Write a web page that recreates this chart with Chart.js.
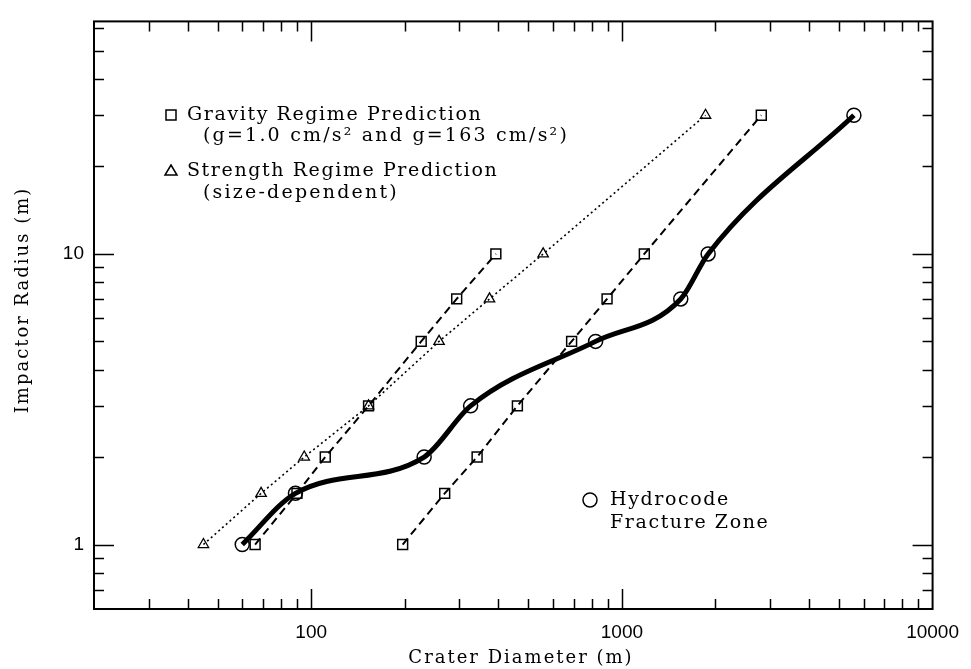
<!DOCTYPE html>
<html>
<head>
<meta charset="utf-8">
<script src="https://cdn.jsdelivr.net/npm/chart.js@4.4.0/dist/chart.umd.min.js"></script>
<style>
  html, body { margin: 0; padding: 0; background: #fff; }
  #wrap { width: 971px; height: 669px; }
</style>
</head>
<body>
<div id="wrap"><canvas id="myChart" width="971" height="669"></canvas></div>
<script>
// impactor radius (m) of each run
const radii = [1, 1.5, 2, 3, 5, 7, 10, 30];

// crater diameter (m) for each radius
const gravityHighG = [66, 90, 111, 153, 226, 294, 393];          // g = 163 cm/s2
const gravityLowG = [197, 269, 342, 461, 689, 896, 1181, 2810];  // g = 1.0 cm/s2
const strength = [45, 69, 95, 153, 258, 375, 558, 1859];
const hydrocode = [60, 89, 231, 326, 823, 1547, 1895, 5582];

// axis ticks
const xTicks = [30, 40, 50, 60, 70, 80, 90, 100, 200, 300, 400, 500, 600, 700, 800, 900,
                1000, 2000, 3000, 4000, 5000, 6000, 7000, 8000, 9000];
const xLabels = [100, 1000, 10000];
const yTicks = [0.7, 0.8, 0.9, 1, 2, 3, 4, 5, 6, 7, 8, 9, 10, 20, 30, 40, 50, 60];
const yLabels = [1, 10];

const pts = (xs) => xs.map((x, i) => ({ x: x, y: radii[i] }));

const serif = '"DejaVu Serif", serif';

// border and inward tick marks on all four sides
const frame = {
    id: 'frame',
    afterDatasetsDraw(chart) {
        const { ctx, chartArea: a, scales: { x, y } } = chart;
        ctx.save();
        ctx.strokeStyle = '#000';
        ctx.lineWidth = 2;
        ctx.strokeRect(a.left, a.top, a.right - a.left, a.bottom - a.top);
        ctx.lineWidth = 1.5;
        ctx.beginPath();
        xTicks.forEach(v => {
            const px = Math.round(x.getPixelForValue(v)) + 0.5;
            const len = xLabels.includes(v) ? 20 : 10;
            ctx.moveTo(px, a.bottom); ctx.lineTo(px, a.bottom - len);
            ctx.moveTo(px, a.top); ctx.lineTo(px, a.top + len);
        });
        yTicks.forEach(v => {
            const py = Math.round(y.getPixelForValue(v)) + 0.5;
            const len = yLabels.includes(v) ? 20 : 10;
            ctx.moveTo(a.left, py); ctx.lineTo(a.left + len, py);
            ctx.moveTo(a.right, py); ctx.lineTo(a.right - len, py);
        });
        ctx.stroke();
        ctx.restore();
    }
};

// axis titles and the in-plot key
const notes = {
    id: 'notes',
    afterDraw(chart) {
        const ctx = chart.ctx;
        ctx.save();
        ctx.fillStyle = '#000';
        ctx.strokeStyle = '#000';
        ctx.textBaseline = 'alphabetic';

        ctx.font = '18px ' + serif;
        ctx.letterSpacing = '2px';
        ctx.textAlign = 'center';
        ctx.fillText('Crater Diameter (m)', 521, 663);
        ctx.save();
        ctx.translate(28, 300);
        ctx.rotate(-Math.PI / 2);
        ctx.fillText('Impactor Radius (m)', 0, 0);
        ctx.restore();

        ctx.textAlign = 'left';
        ctx.font = '19px ' + serif;
        ctx.letterSpacing = '1.6px';
        ctx.fillText('Gravity Regime Prediction', 187, 120);
        ctx.fillText('Strength Regime Prediction', 187, 176);
        ctx.fillText('Hydrocode', 610, 505);
        ctx.fillText('Fracture Zone', 610, 528);
        ctx.letterSpacing = '2.2px';
        ctx.fillText('(g=1.0 cm/s\u00b2 and g=163 cm/s\u00b2)', 203, 141);
        ctx.fillText('(size-dependent)', 203, 198);

        ctx.lineWidth = 1.5;
        ctx.strokeRect(166, 110, 10, 10);
        ctx.beginPath();
        ctx.moveTo(171, 165); ctx.lineTo(177, 175); ctx.lineTo(165, 175); ctx.closePath();
        ctx.stroke();
        ctx.beginPath();
        ctx.arc(590, 500, 7, 0, Math.PI * 2);
        ctx.stroke();
        ctx.restore();
    }
};

const ctx = document.getElementById('myChart').getContext('2d');
new Chart(ctx, {
    type: 'line',
    data: {
        datasets: [
            {
                label: 'Gravity Regime Prediction (g=163)',
                data: pts(gravityHighG),
                borderColor: '#000',
                borderWidth: 2,
                borderDash: [8, 5],
                pointStyle: 'rect',
                pointRadius: 7,
                pointBorderWidth: 1.5,
                pointBorderColor: '#000',
                pointBackgroundColor: 'rgba(0,0,0,0)'
            },
            {
                label: 'Gravity Regime Prediction (g=1.0)',
                data: pts(gravityLowG),
                borderColor: '#000',
                borderWidth: 2,
                borderDash: [8, 5],
                pointStyle: 'rect',
                pointRadius: 7,
                pointBorderWidth: 1.5,
                pointBorderColor: '#000',
                pointBackgroundColor: 'rgba(0,0,0,0)'
            },
            {
                label: 'Strength Regime Prediction',
                data: pts(strength),
                borderColor: '#000',
                borderWidth: 1.6,
                borderDash: [2, 3],
                pointStyle: 'triangle',
                pointRadius: 6,
                pointBorderWidth: 1.3,
                pointBorderColor: '#000',
                pointBackgroundColor: 'rgba(0,0,0,0)'
            },
            {
                label: 'Hydrocode Fracture Zone',
                data: pts(hydrocode),
                borderColor: '#000',
                borderWidth: 5,
                cubicInterpolationMode: 'monotone',
                pointStyle: 'circle',
                pointRadius: 7,
                pointBorderWidth: 1.5,
                pointBorderColor: '#000',
                pointBackgroundColor: 'rgba(0,0,0,0)'
            }
        ]
    },
    options: {
        responsive: false,
        animation: false,
        layout: { padding: { top: 19, right: 33, left: 0, bottom: 0 } },
        scales: {
            x: {
                type: 'logarithmic',
                min: 20,
                max: 10000,
                afterFit: (s) => { s.height = 60; },
                afterBuildTicks: (s) => { s.ticks = xLabels.map(v => ({ value: v })); },
                grid: { display: false, drawTicks: false },
                border: { display: false },
                ticks: {
                    autoSkip: false,
                    maxRotation: 0,
                    padding: 12,
                    color: '#000',
                    font: { family: '"Liberation Sans", Arial, sans-serif', size: 19 },
                    callback: (v) => String(v)
                }
            },
            y: {
                type: 'logarithmic',
                min: 0.631,
                max: 63.1,
                afterFit: (s) => { s.width = 94; },
                afterBuildTicks: (s) => { s.ticks = yLabels.map(v => ({ value: v })); },
                grid: { display: false, drawTicks: false },
                border: { display: false },
                ticks: {
                    autoSkip: false,
                    padding: 10,
                    color: '#000',
                    font: { family: '"Liberation Sans", Arial, sans-serif', size: 19 },
                    callback: (v) => String(v)
                }
            }
        },
        plugins: {
            legend: { display: false },
            tooltip: { enabled: false }
        }
    },
    plugins: [frame, notes]
});
</script>
</body>
</html>
